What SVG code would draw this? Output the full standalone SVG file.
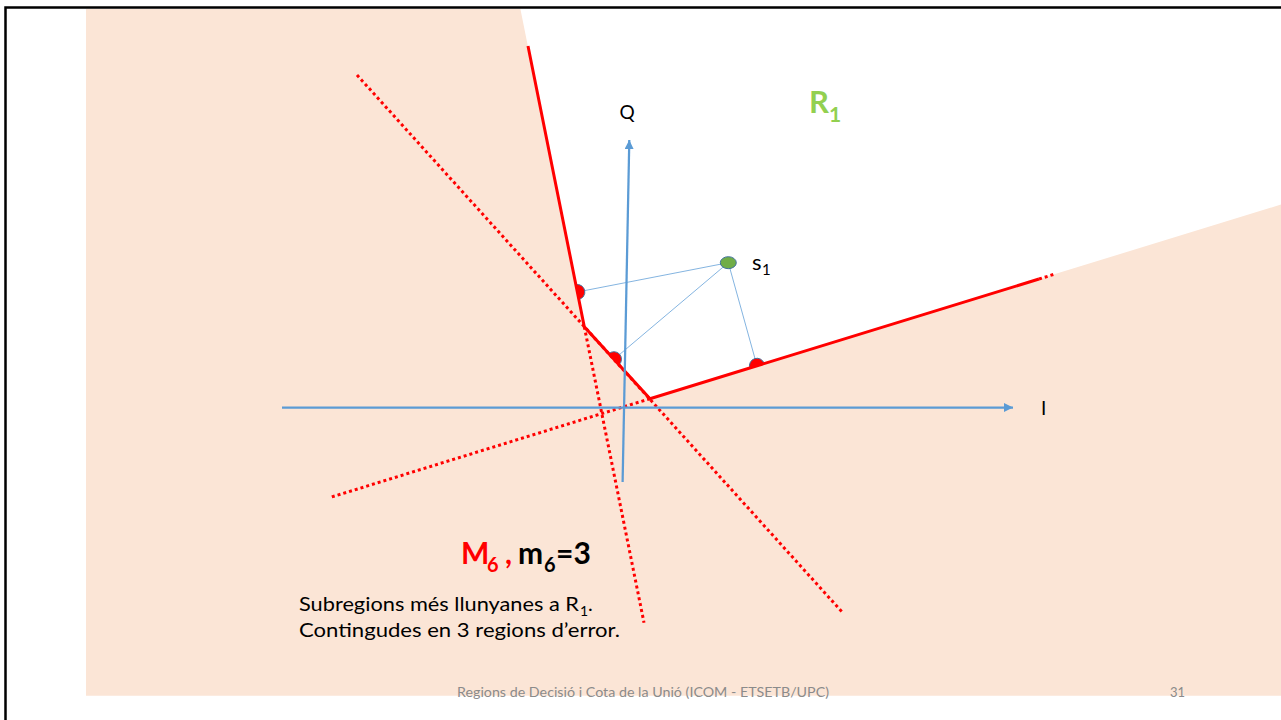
<svg xmlns="http://www.w3.org/2000/svg" width="1281" height="720" viewBox="0 0 1281 720">
  <style>
    .txt { font-family: Lato, "Liberation Sans", sans-serif; fill: #000; }
    .axis { stroke: #5B9BD5; stroke-width: 2.25; fill: none; }
    .thin { stroke: #5B9BD5; stroke-width: 0.75; fill: none; }
    .solid { stroke: #FF0000; stroke-width: 3; fill: none; stroke-linejoin: miter; }
    .dot { stroke: #FF0000; stroke-width: 3; fill: none; stroke-dasharray: 3 3; }
    .pt { fill: #FF0000; stroke: #41719C; stroke-width: 1; }
  </style>
  <defs>
    <marker id="arr" markerUnits="userSpaceOnUse" markerWidth="10" markerHeight="9" refX="9" refY="4.5" orient="auto">
      <path d="M0,0 L9,4.5 L0,9 z" fill="#5B9BD5"/>
    </marker>
  </defs>

  <rect x="0" y="0" width="1281" height="720" fill="#FFFFFF"/>
  <g id="region-error">
    <polygon points="86,9 520.4,9 584.3,326.7 650,398.7 1281,204.5 1281,695.7 86,695.7" fill="#FBE5D6"/>
  </g>
  <rect id="frame" x="5.5" y="7.5" width="1300" height="800" fill="none" stroke="#000" stroke-width="2.5"/>

  <g id="connectors">
    <line class="thin" x1="728.3" y1="262.7" x2="577.3" y2="292"/>
    <line class="thin" x1="728.3" y1="262.7" x2="614" y2="359.2"/>
    <line class="thin" x1="728.3" y1="262.7" x2="757" y2="365.8"/>
  </g>

  <g id="points">
    <path class="pt" d="M575.8,284.6 A7.5,7.5 0 0 1 578.8,299.4 Z"/>
    <path class="pt" d="M608.9,353.7 A7.5,7.5 0 0 1 619.1,364.7 Z"/>
    <path class="pt" d="M749.8,368 A7.5,7.5 0 0 1 764.2,363.6 Z"/>
  </g>

  <g id="boundaries">
    <line class="dot" x1="357" y1="75" x2="843" y2="613"/>
    <line class="dot" x1="584.3" y1="326.7" x2="644" y2="622.7"/>
    <line class="dot" x1="650" y1="398.7" x2="330" y2="497.5"/>
    <line class="dot" x1="1039" y1="279" x2="1055" y2="274"/>
    <polyline class="solid" points="528,46 584.3,326.7 650,398.7 1039,279"/>
  </g>

  <g id="axes">
    <line class="axis" x1="282" y1="407.5" x2="1013" y2="407.5" marker-end="url(#arr)"/>
    <line class="axis" x1="622.6" y1="482" x2="629.3" y2="140" marker-end="url(#arr)"/>
    <text class="txt" x="627" y="119" font-size="19" text-anchor="middle">Q</text>
    <text class="txt" x="1041" y="415" font-size="19">I</text>
  </g>

  <g id="s1">
    <ellipse cx="728.3" cy="262.7" rx="8" ry="6" fill="#70AD47" stroke="#41719C" stroke-width="1"/>
    <text class="txt" x="752" y="269.5" font-size="22">s</text>
    <text class="txt" x="762" y="274.5" font-size="15">1</text>
  </g>

  <g id="R1">
    <text x="809" y="113.3" font-family="Lato, 'Liberation Sans', sans-serif" font-weight="bold" font-size="31" fill="#92D050">R</text>
    <text x="829" y="121.7" font-family="Lato, 'Liberation Sans', sans-serif" font-weight="bold" font-size="21" fill="#92D050">1</text>
  </g>

  <g id="M6-label" font-family="Lato, 'Liberation Sans', sans-serif" font-weight="bold">
    <text x="461" y="564" font-size="30" fill="#FF0000">M</text>
    <text x="487" y="571.5" font-size="20" fill="#FF0000">6</text>
    <text x="505" y="564" font-size="30" fill="#FF0000">,</text>
    <text x="518" y="564" font-size="30" fill="#000">m</text>
    <text x="544" y="571.5" font-size="20" fill="#000">6</text>
    <text x="556" y="564" font-size="30" fill="#000">=3</text>
  </g>

  <g id="description" class="txt">
    <text class="txt" x="299" y="610.5" font-size="20" textLength="280" lengthAdjust="spacingAndGlyphs">Subregions més llunyanes a R</text>
    <text class="txt" x="580" y="616" font-size="14">1</text>
    <text class="txt" x="588" y="610.5" font-size="20">.</text>
    <text class="txt" x="299" y="636.5" font-size="20" textLength="321" lengthAdjust="spacingAndGlyphs">Contingudes en 3 regions d’error.</text>
  </g>

  <g id="footer">
    <text x="643" y="696.5" font-family="Lato, 'Liberation Sans', sans-serif" font-size="13" fill="#8B8B8B" text-anchor="middle" textLength="372" lengthAdjust="spacingAndGlyphs">Regions de Decisió i Cota de la Unió (ICOM - ETSETB/UPC)</text>
    <text x="1185" y="696.5" font-family="Lato, 'Liberation Sans', sans-serif" font-size="13" fill="#8B8B8B" text-anchor="end">31</text>
  </g>
</svg>
